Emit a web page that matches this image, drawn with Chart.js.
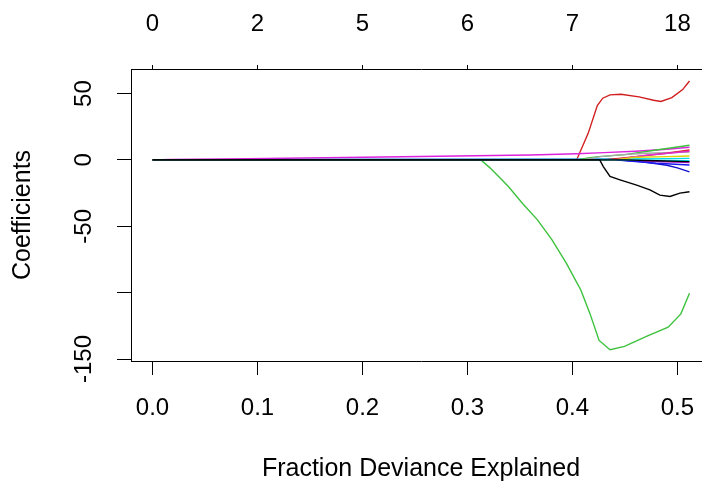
<!DOCTYPE html>
<html>
<head>
<meta charset="utf-8">
<script src="https://cdn.jsdelivr.net/npm/chart.js@4.4.1/dist/chart.umd.min.js"></script>
<style>
  html, body { margin: 0; padding: 0; background: #fff; overflow: hidden; }
  #wrap { width: 702px; height: 486px; overflow: hidden; }
</style>
</head>
<body>
<div id="wrap"><canvas id="coefChart" width="720" height="486"></canvas></div>
<script>
// glmnet coefficient paths against fraction of deviance explained
const devTicks = [0, 0.1, 0.2, 0.3, 0.4, 0.5];
const dfLabels = ['0', '2', '5', '6', '7', '18'];
const coefTicks = [-150, -100, -50, 0, 50];

const blackZeroDev = [0, 0.45, 0.48, 0.5115];
const blackZeroCoef = [0, 0, -0.6, -1.3];

const blackDev = [0, 0.426, 0.4294, 0.4358, 0.4453, 0.4612, 0.4738, 0.4833, 0.4929, 0.5024, 0.5115];
const blackCoef = [0, 0, -5, -12.5, -15, -19, -22.5, -26.5, -27.5, -25, -24];

const redDev = [0, 0.404, 0.415, 0.4237, 0.4289, 0.4358, 0.4462, 0.4634, 0.4773, 0.4843, 0.4947, 0.505, 0.5115];
const redCoef = [0, 0, 20, 41, 46.5, 49, 49.5, 47.5, 45, 44, 47, 53, 59.5];

const greenDev = [0, 0.3128, 0.3215, 0.339, 0.3527, 0.3665, 0.3804, 0.3943, 0.4025, 0.408, 0.4168, 0.4254, 0.4358, 0.4496, 0.4705, 0.4912, 0.5033, 0.5115];
const greenCoef = [0, 0, -6, -20, -33, -45, -60, -78, -90, -98, -116, -136, -143, -140.5, -133, -126, -116, -100.5];

const magentaDev = [0, 0.017, 0.09, 0.22, 0.36, 0.404, 0.43, 0.46, 0.49, 0.5115];
const magentaCoef = [0, 0.4, 0.9, 2.2, 3.7, 4.7, 5.5, 6.5, 8, 9.5];

const cyanDev = [0, 0.22, 0.404, 0.45, 0.49, 0.5115];
const cyanCoef = [0, 0.4, 0.6, 0.8, 1.0, 1.2];

const blueDev = [0, 0.19, 0.22, 0.44, 0.467, 0.49, 0.5, 0.5115];
const blueCoef = [0, 0.3, 0.4, 0.3, -1.5, -4, -6, -9];

const green2Dev = [0, 0.405, 0.415, 0.425, 0.45, 0.48, 0.5115];
const green2Coef = [0, 0, 1.5, 2.5, 4, 7.5, 11];

const grayDev = [0, 0.41, 0.427, 0.445, 0.47, 0.5115];
const grayCoef = [0, 0, 2.5, 3.8, 5, 6];

const red2Dev = [0, 0.43, 0.46, 0.49, 0.5115];
const red2Coef = [0, 0, 2.5, 5, 7.5];

const magenta2Dev = [0, 0.44, 0.47, 0.5115];
const magenta2Coef = [0, 0, 3.5, 6.5];

const magenta3Dev = [0, 0.44, 0.47, 0.5115];
const magenta3Coef = [0, 0, -1, -2];

const blue2Dev = [0, 0.44, 0.48, 0.5115];
const blue2Coef = [0, 0, -2.5, -3.8];

const yellowDev = [0, 0.44, 0.46, 0.49, 0.5115];
const yellowCoef = [0, 0, 2, 2.5, 3];

const cyan2Dev = [0, 0.45, 0.5115];
const cyan2Coef = [0, 0, -0.5];

// first in list is drawn on top
const series = [
    [blackZeroDev, blackZeroCoef, '#000000'],
    [blackDev, blackCoef, '#000000'],
    [cyan2Dev, cyan2Coef, '#00dde8'],
    [yellowDev, yellowCoef, '#e0d400'],
    [blue2Dev, blue2Coef, '#1a1aee'],
    [magenta3Dev, magenta3Coef, '#b020c8'],
    [magenta2Dev, magenta2Coef, '#e030d0'],
    [red2Dev, red2Coef, '#dd2020'],
    [grayDev, grayCoef, '#a8a8a8'],
    [green2Dev, green2Coef, '#3cc23c'],
    [blueDev, blueCoef, '#1010cc'],
    [cyanDev, cyanCoef, '#00dde8'],
    [magentaDev, magentaCoef, '#dd22dd'],
    [greenDev, greenCoef, '#3cc23c'],
    [redDev, redCoef, '#d01e1e'],
];

const font = {family: '"Liberation Sans", Arial, sans-serif', size: 24};
const titleFont = {family: '"Liberation Sans", Arial, sans-serif', size: 25};
const xMin = -0.0205, xMax = 0.532;

const datasets = series.map(([dev, coef, color]) => ({
    data: dev.map((x, i) => ({x: x, y: coef[i]})),
    borderColor: color,
    borderWidth: 1.4,
    pointRadius: 0,
    tension: 0,
    fill: false
}));

window.onload = function () {
    let ctx = document.getElementById('coefChart').getContext('2d');
    window.coefChart = new Chart(ctx, {
        type: 'line',
        data: {datasets: datasets},
        options: {
            responsive: false,
            animation: false,
            devicePixelRatio: 1,
            layout: {padding: {left: 0, right: 9, top: 0, bottom: 0}},
            plugins: {legend: {display: false}, tooltip: {enabled: false}},
            scales: {
                x: {
                    type: 'linear', position: 'bottom', min: xMin, max: xMax,
                    afterBuildTicks: s => { s.ticks = devTicks.map(v => ({value: v})); },
                    afterFit: s => { s.height = 125; },
                    ticks: {font: font, color: '#000', padding: 19, autoSkip: false, maxRotation: 0,
                        callback: v => v.toFixed(1)},
                    grid: {drawOnChartArea: false, tickLength: 14, color: '#000', lineWidth: 1},
                    border: {display: true, color: '#000', width: 1},
                    title: {display: true, text: 'Fraction Deviance Explained', font: titleFont, color: '#000',
                        padding: {top: 0, bottom: 2}}
                },
                x2: {
                    type: 'linear', position: 'top', min: xMin, max: xMax,
                    afterBuildTicks: s => { s.ticks = devTicks.map(v => ({value: v})); },
                    afterFit: s => { s.height = 69; },
                    ticks: {font: font, color: '#000', padding: 26.6, autoSkip: false, maxRotation: 0,
                        callback: (v, i) => dfLabels[i]},
                    grid: {drawOnChartArea: false, tickLength: 4, color: '#000', lineWidth: 1},
                    border: {display: true, color: '#000', width: 1}
                },
                y: {
                    type: 'linear', position: 'left', min: -151.5, max: 68.5,
                    afterBuildTicks: s => { s.ticks = coefTicks.map(v => ({value: v})); },
                    afterFit: s => { s.width = 131; },
                    ticks: {font: font, color: '#000', padding: 8.7, minRotation: 90, maxRotation: 90,
                        crossAlign: 'center',
                        callback: v => (v === -100 ? '' : String(v))},
                    grid: {drawOnChartArea: false, tickLength: 14, color: '#000', lineWidth: 1},
                    border: {display: true, color: '#000', width: 1},
                    title: {display: true, text: 'Coefficients', font: titleFont, color: '#000',
                        padding: {top: 8.5, bottom: 0}}
                }
            }
        }
    });
};
</script>
</body>
</html>
